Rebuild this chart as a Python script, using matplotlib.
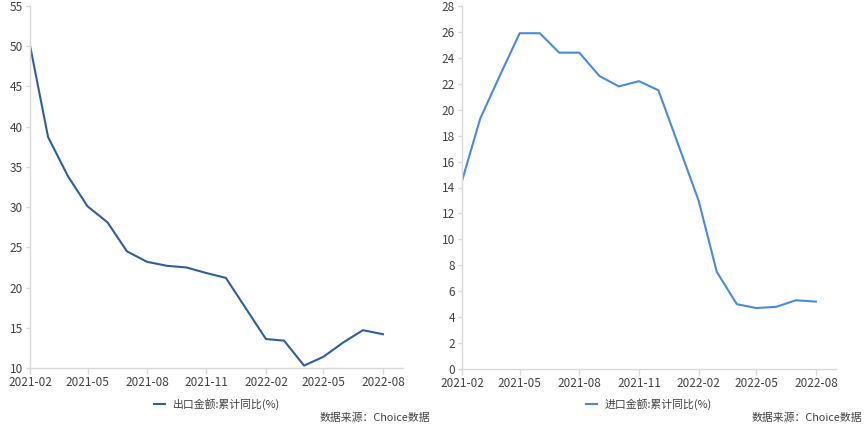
import matplotlib.pyplot as plt
import matplotlib.dates as mdates
import pandas as pd

plt.rcParams['font.family'] = ['Noto Sans CJK SC', 'DejaVu Sans']

# cumulative data, Jan is merged into Feb so there is no January point
months = ['2021-02', '2021-03', '2021-04', '2021-05', '2021-06', '2021-07',
          '2021-08', '2021-09', '2021-10', '2021-11', '2021-12',
          '2022-02', '2022-03', '2022-04', '2022-05', '2022-06', '2022-07', '2022-08']
export_yoy = [50.1, 38.7, 33.8, 30.1, 28.1, 24.5, 23.2, 22.7, 22.5, 21.8, 21.2,
              13.6, 13.4, 10.3, 11.4, 13.2, 14.7, 14.2]
import_yoy = [14.5, 19.3, 22.7, 25.9, 25.9, 24.4, 24.4, 22.6, 21.8, 22.2, 21.5,
              13.0, 7.5, 5.0, 4.7, 4.8, 5.3, 5.2]
tick_months = ['2021-02', '2021-05', '2021-08', '2021-11', '2022-02', '2022-05', '2022-08']

dates = pd.to_datetime(months)
ticks = pd.to_datetime(tick_months)

fig = plt.figure(figsize=(8.65, 4.32), dpi=100)
ax1 = fig.add_axes([30 / 865, 1 - 368 / 432, 373 / 865, 362 / 432])
ax2 = fig.add_axes([462 / 865, 1 - 369 / 432, 374 / 865, 363 / 432])

grey = '#d9d9d9'
txt = '#404040'


def style(ax, ylim, ystep):
    ax.set_xlim(pd.Timestamp('2021-02-01'), pd.Timestamp('2022-09-01'))
    ax.set_ylim(*ylim)
    ax.set_yticks(range(ylim[0], ylim[1] + 1, ystep))
    ax.set_xticks(ticks)
    ax.xaxis.set_major_formatter(mdates.DateFormatter('%Y-%m'))
    for s in ['top', 'right']:
        ax.spines[s].set_visible(False)
    for s in ['left', 'bottom']:
        ax.spines[s].set_color(grey)
        ax.spines[s].set_linewidth(1)
    ax.tick_params(axis='both', colors=grey, labelcolor=txt, labelsize=8.5,
                   length=4, width=1, pad=2)
    ax.tick_params(axis='y', length=3)


ax1.plot(dates, export_yoy, color='#2e5e9e', lw=1.5, label='出口金额:累计同比(%)')
style(ax1, (10, 55), 5)
ax2.plot(dates, import_yoy, color='#4a8ad8', lw=1.5, label='进口金额:累计同比(%)')
style(ax2, (0, 28), 2)

for ax, lx in [(ax1, 217 / 865), (ax2, 649 / 865)]:
    ax.legend(loc='center', bbox_to_anchor=(lx, 1 - 404 / 432),
              bbox_transform=fig.transFigure, frameon=False, fontsize=7.8,
              handlelength=1.0, handletextpad=0.7, labelcolor=txt)

fig.text(430 / 865, 1 - 418 / 432, '数据来源：Choice数据', ha='right', va='center',
         fontsize=7.8, color=txt)
fig.text(862 / 865, 1 - 418 / 432, '数据来源：Choice数据', ha='right', va='center',
         fontsize=7.8, color=txt)

fig.savefig('out.png', dpi=100)
